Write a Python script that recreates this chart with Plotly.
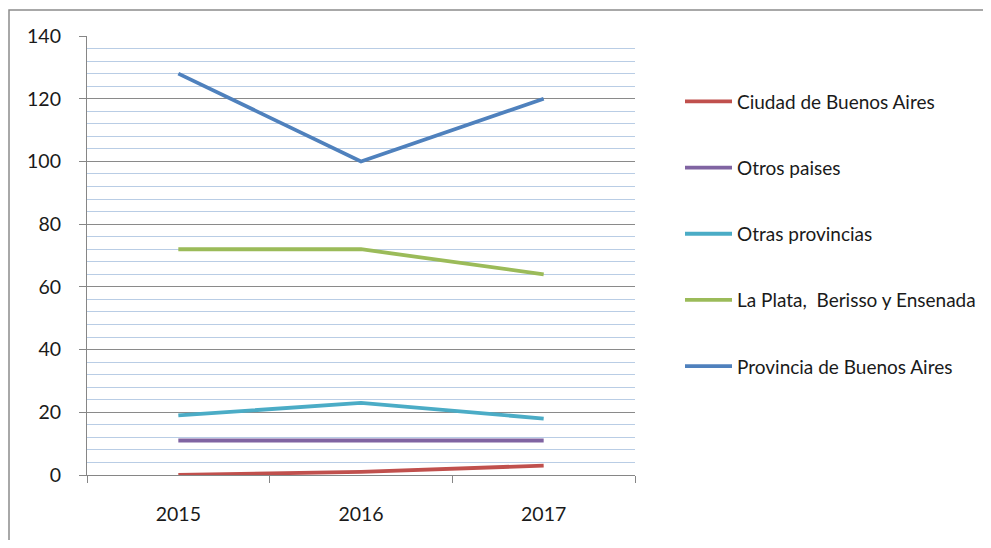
import plotly.graph_objects as go

years = ["2015", "2016", "2017"]
series_names = [
    "Ciudad de Buenos Aires",
    "Otros paises",
    "Otras provincias",
    "La Plata,  Berisso y Ensenada",
    "Provincia de Buenos Aires",
]
ciudad = [0, 1, 3]
otros_paises = [11, 11, 11]
otras_provincias = [19, 23, 18]
la_plata = [72, 72, 64]
provincia = [128, 100, 120]
series_values = [ciudad, otros_paises, otras_provincias, la_plata, provincia]
colors = ["#C0504D", "#8064A2", "#4BACC6", "#9BBB59", "#4F81BD"]

# page body has an 8px margin; work in figure pixels = screen pixels - 8
OFF = 8
W, H = 991 - 2 * OFF, 548 - 2 * OFF
L, R, T, B = 87 - OFF, 635 - OFF, 36 - OFF, 475 - OFF

fig = go.Figure()
for i, (name, vals, col) in enumerate(zip(series_names, series_values, colors)):
    fig.add_trace(go.Scatter(
        x=years, y=vals, name=name, mode="lines",
        line=dict(color=col, width=3.8),
        legendgroup=f"g{i}",
    ))

def px(x):
    return (x - OFF - L) / (R - L)

def py(y):
    return (B - (y - OFF)) / (B - T)

fig.update_layout(
    width=W, height=H,
    margin=dict(l=L, r=W - R, t=T, b=H - B, autoexpand=False),
    paper_bgcolor="white", plot_bgcolor="white",
    font=dict(family="Lato, 'Open Sans', sans-serif", size=19.5, color="#1a1a1a"),
    showlegend=True,
    legend=dict(
        x=px(680), y=py(82.5), xanchor="left", yanchor="top",
        tracegroupgap=38.5, font=dict(size=19), bgcolor="rgba(0,0,0,0)",
        itemwidth=47,
    ),
    shapes=[dict(
        type="rect", xref="paper", yref="paper",
        x0=px(9), x1=px(1010), y0=py(620), y1=py(10),
        line=dict(color="#8C8C8C", width=1.5), layer="below",
    )],
)
fig.update_xaxes(
    type="category", range=[-0.5, 2.5], tickson="boundaries",
    showgrid=False, showline=True, linecolor="#868686", linewidth=1.2,
    ticks="outside", ticklen=7, tickcolor="#868686", tickwidth=1.2,
    ticklabelstandoff=21, zeroline=False,
)
fig.update_yaxes(
    range=[0, 140], dtick=20, tick0=0,
    showgrid=True, gridcolor="#8A8A8A", gridwidth=1.2,
    minor=dict(dtick=4, showgrid=True, gridcolor="#B9CDE5", gridwidth=1),
    showline=True, linecolor="#868686", linewidth=1.2,
    ticks="outside", ticklen=7, tickcolor="#868686", tickwidth=1.2,
    ticklabelstandoff=14, zeroline=False,
)

fig.write_html("out.html")
